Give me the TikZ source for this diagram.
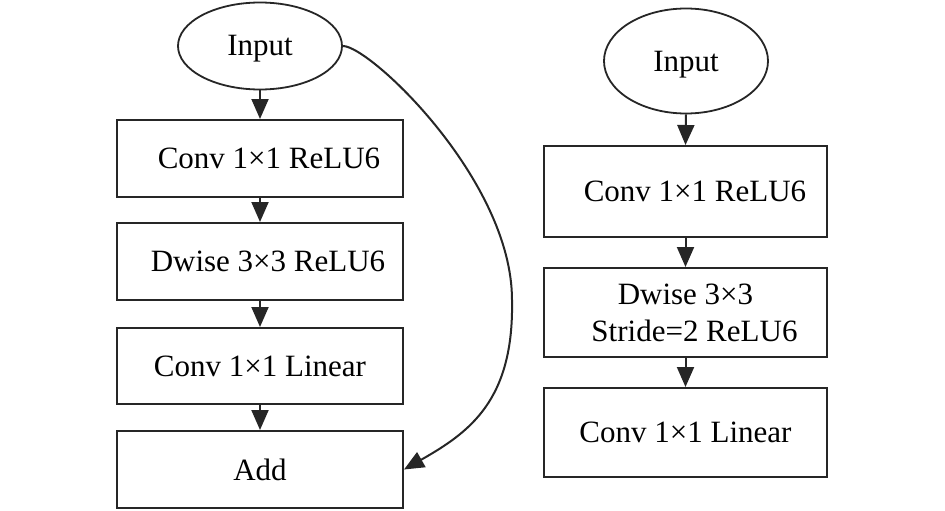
\documentclass[tikz,border=0pt]{standalone}
\usepackage{fontspec}
\setmainfont{Liberation Serif}
\usetikzlibrary{arrows.meta,shapes.geometric}
\tikzset{
  px/.style={x=1pt, y=-1pt},
  blk/.style={draw=black!85, line width=2pt, rectangle, inner sep=0pt,
    font=\fontsize{31}{37}\selectfont, align=center},
  inp/.style={draw=black!85, line width=1.8pt, ellipse, inner sep=0pt,
    minimum width=164pt, text height=20pt, text depth=0pt,
    font=\fontsize{31}{37}\selectfont},
  flow/.style={black!85, line width=2pt, -{Triangle[length=20pt, width=17pt]}},
}
\begin{document}
\begin{tikzpicture}[px]
  \useasboundingbox (0,0) rectangle (945,511);
  % stride 1 block (left)
  \node[inp, minimum height=87pt] (linp) at (260,46) {Input};
  \node[blk, minimum width=286pt, minimum height=77pt] (lc1) at (260,158.5) {\hspace*{18pt}Conv 1×1 ReLU6};
  \node[blk, minimum width=286pt, minimum height=77pt] (ldw) at (260,261.5) {\hspace*{16pt}Dwise 3×3 ReLU6};
  \node[blk, minimum width=286pt, minimum height=76pt] (lc2) at (260,366) {Conv 1×1 Linear};
  \node[blk, minimum width=286pt, minimum height=77pt] (add) at (260,469.5) {Add};
  \draw[flow] (linp.south) -- (lc1.north);
  \draw[flow] (lc1.south) -- (ldw.north);
  \draw[flow] (ldw.south) -- (lc2.north);
  \draw[flow] (lc2.south) -- (add.north);
  % shortcut
  \draw[flow] (linp.east) .. controls (370,46) and (512,180) .. (512,300)
       .. controls (514,400) and (470,432) .. (add.east);
  % stride 2 block (right)
  \node[inp, minimum height=105pt] (rinp) at (686,61) {Input};
  \node[blk, minimum width=283pt, minimum height=91pt] (rc1) at (685.5,191.5) {\hspace*{19pt}Conv 1×1 ReLU6};
  \node[blk, minimum width=283pt, minimum height=89pt] (rdw) at (685.5,312.5) {Dwise 3×3\\\hspace*{18pt}Stride=2 ReLU6};
  \node[blk, minimum width=283pt, minimum height=89pt] (rc2) at (685.5,432.5) {Conv 1×1 Linear};
  \draw[flow] (rinp.south) -- (rc1.north);
  \draw[flow] (rc1.south) -- (rdw.north);
  \draw[flow] (rdw.south) -- (rc2.north);
\end{tikzpicture}
\end{document}
